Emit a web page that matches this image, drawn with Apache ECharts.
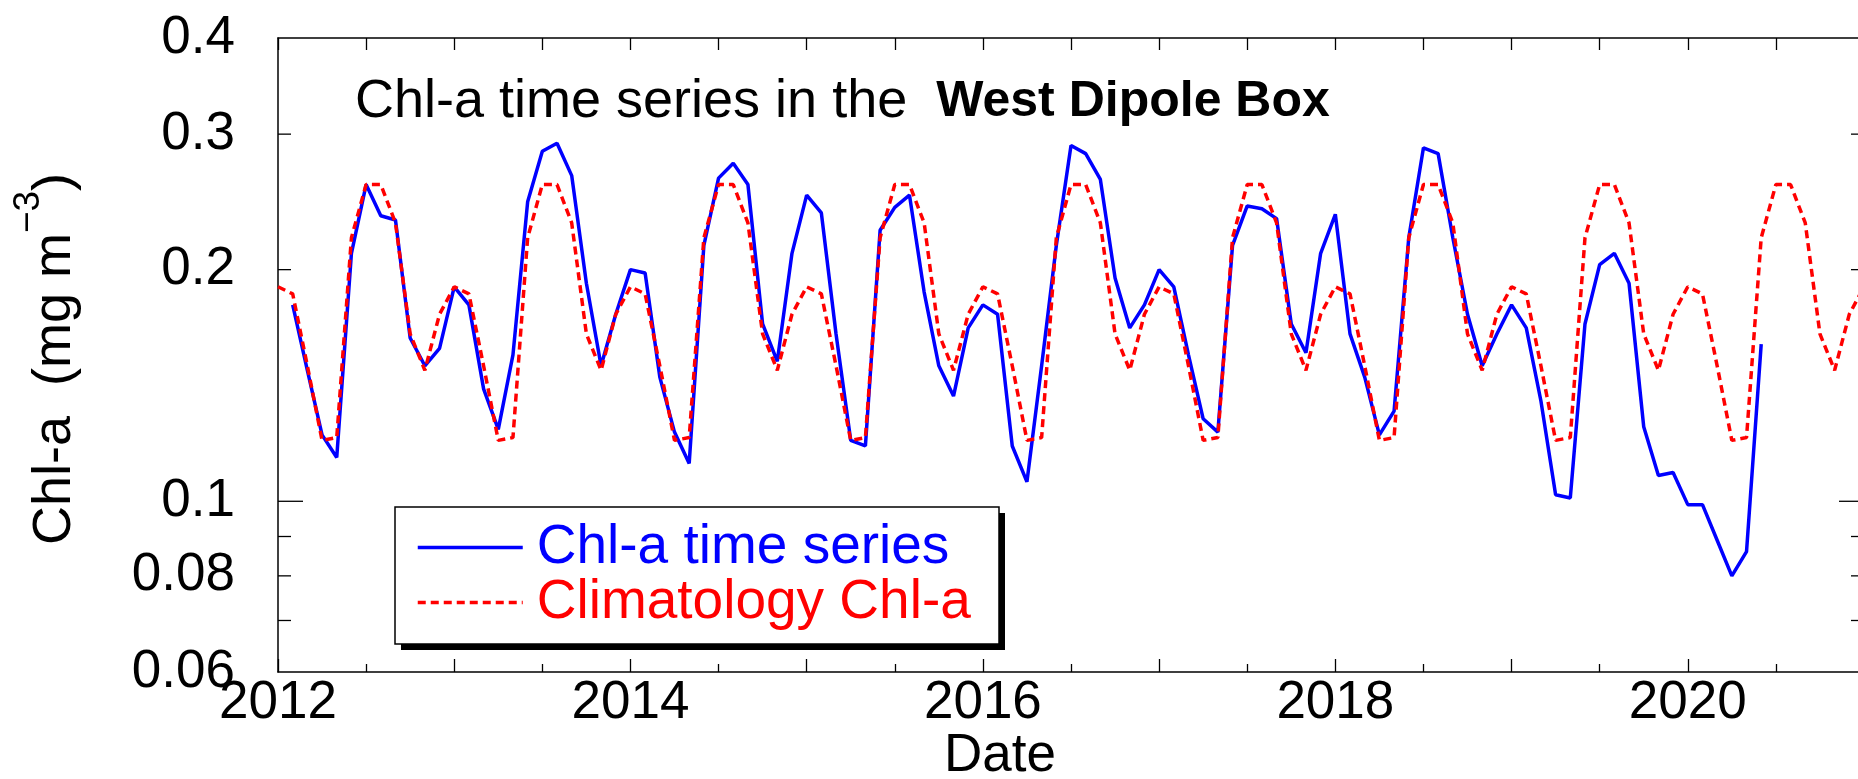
<!DOCTYPE html>
<html>
<head>
<meta charset="utf-8">
<script src="https://cdn.jsdelivr.net/npm/echarts@6/dist/echarts.min.js"></script>
<style>
html,body{margin:0;padding:0;background:#fff;}
#c{width:1858px;height:779px;}
</style>
</head>
<body>
<div id="c"></div>
<script>
// ---------------- data ----------------
const startYear = 2012;
// monthly Chl-a, Feb 2012 .. Jun 2020 (mg m^-3)
const chlValues = [
  0.18, 0.148, 0.122, 0.114, 0.21, 0.258, 0.235, 0.232, 0.163, 0.15, 0.158,
  0.19, 0.18, 0.14, 0.124, 0.155, 0.245, 0.285, 0.292, 0.265, 0.192, 0.15, 0.175,
  0.2, 0.198, 0.145, 0.123, 0.112, 0.215, 0.263, 0.275, 0.258, 0.17, 0.152, 0.21,
  0.25, 0.237, 0.165, 0.12, 0.118, 0.225, 0.241, 0.25, 0.187, 0.15, 0.137, 0.168,
  0.18, 0.175, 0.118, 0.106, 0.15, 0.215, 0.29, 0.283, 0.262, 0.195, 0.168, 0.18,
  0.2, 0.19, 0.155, 0.128, 0.123, 0.215, 0.242, 0.24, 0.233, 0.17, 0.156, 0.21,
  0.236, 0.165, 0.145, 0.122, 0.131, 0.22, 0.288, 0.283, 0.22, 0.175, 0.15, 0.165,
  0.18, 0.168, 0.135, 0.102, 0.101, 0.17, 0.203, 0.21, 0.192, 0.125, 0.108, 0.109,
  0.099, 0.099, 0.089, 0.08, 0.086, 0.16
];
// monthly climatology, Jan 2012 .. Jan 2021
const climValues = [
  0.19, 0.186, 0.15, 0.12, 0.121, 0.22, 0.258, 0.258, 0.23, 0.165, 0.148, 0.175,
  0.19, 0.186, 0.15, 0.12, 0.121, 0.22, 0.258, 0.258, 0.23, 0.165, 0.148, 0.175,
  0.19, 0.186, 0.15, 0.12, 0.121, 0.22, 0.258, 0.258, 0.23, 0.165, 0.148, 0.175,
  0.19, 0.186, 0.15, 0.12, 0.121, 0.22, 0.258, 0.258, 0.23, 0.165, 0.148, 0.175,
  0.19, 0.186, 0.15, 0.12, 0.121, 0.22, 0.258, 0.258, 0.23, 0.165, 0.148, 0.175,
  0.19, 0.186, 0.15, 0.12, 0.121, 0.22, 0.258, 0.258, 0.23, 0.165, 0.148, 0.175,
  0.19, 0.186, 0.15, 0.12, 0.121, 0.22, 0.258, 0.258, 0.23, 0.165, 0.148, 0.175,
  0.19, 0.186, 0.15, 0.12, 0.121, 0.22, 0.258, 0.258, 0.23, 0.165, 0.148, 0.175,
  0.19, 0.186, 0.15, 0.12, 0.121, 0.22, 0.258, 0.258, 0.23, 0.165, 0.148, 0.175,
  0.19
];
const chlFirstMonth = 1;   // Feb 2012
const climFirstMonth = 0;  // Jan 2012
const xLabelYears = [2012, 2014, 2016, 2018, 2020];
const yTickLabels = [0.4, 0.3, 0.2, 0.1, 0.08, 0.06];
const yMinorTicks = [0.3, 0.2, 0.09, 0.08, 0.07];
const yMajorTicks = [0.1];
const seriesNames = ['Chl-a time series', 'Climatology Chl-a'];

// ---------------- style ----------------
const FONT = "'Liberation Sans', Arial, Helvetica, sans-serif";
const BLUE = '#0000ff';
const RED = '#ff0000';

const chlData = chlValues.map((v, i) => [startYear + (i + chlFirstMonth) / 12, v]);
const climData = climValues.map((v, i) => [startYear + (i + climFirstMonth) / 12, v]);

const chart = echarts.init(document.getElementById('c'), null, {renderer: 'canvas'});

const axisLineStyle = {color: '#000', width: 1.5};
const tickLineStyle = {color: '#000', width: 1.3};

// legend frame (layout only)
const LEG = {left: 395, top: 507, width: 604, height: 137, shadow: 6};

const option = {
  animation: false,
  backgroundColor: '#fff',
  grid: {left: 278, top: 38, width: 1586, height: 634, containLabel: false, outerBoundsMode: 'none'},
  title: {
    text: '{n|Chl-a time series in the }{b|West Dipole Box}',
    left: 355, top: 75, padding: 0,
    textStyle: {
      fontSize: 54, fontFamily: FONT, color: '#000', fontWeight: 'normal',
      rich: {
        n: {fontSize: 54, fontFamily: FONT, color: '#000', fontWeight: 'normal'},
        b: {fontSize: 50, fontFamily: FONT, color: '#000', fontWeight: 'bold', padding: [0, 0, 0, 14]}
      }
    }
  },
  legend: {
    left: LEG.left, top: LEG.top, orient: 'vertical', z: 10,
    backgroundColor: 'transparent', borderWidth: 0,
    padding: [13, 30, 17, 21],
    itemWidth: 105, itemHeight: 14, itemGap: 0,
    itemStyle: {opacity: 0},
    lineStyle: {width: 3.5},
    textStyle: {fontSize: 55, fontFamily: FONT, lineHeight: 53, padding: [0, 0, 0, 9]},
    data: [
      {name: seriesNames[0], textStyle: {color: BLUE}},
      {name: seriesNames[1], textStyle: {color: RED}}
    ]
  },
  xAxis: [
    {
      type: 'value', min: 2012, max: 2021, interval: 1, position: 'bottom',
      axisLine: {show: true, onZero: false, lineStyle: axisLineStyle},
      axisTick: {show: true, inside: true, length: 13, lineStyle: tickLineStyle},
      minorTick: {show: true, splitNumber: 2, length: 8, lineStyle: tickLineStyle},
      splitLine: {show: false}, minorSplitLine: {show: false},
      axisLabel: {
        margin: 5, fontSize: 53, fontFamily: FONT, color: '#000',
        showMinLabel: true, showMaxLabel: true,
        formatter: v => (xLabelYears.indexOf(v) >= 0 ? String(v) : '')
      }
    },
    {
      type: 'value', min: 2012, max: 2021, interval: 0.5, position: 'top',
      axisLine: {show: true, onZero: false, lineStyle: axisLineStyle},
      axisTick: {show: true, inside: true, length: 12, lineStyle: tickLineStyle},
      axisLabel: {show: false}, splitLine: {show: false}
    }
  ],
  yAxis: {
    type: 'log', logBase: 10, min: 0.06, max: 0.4,
    axisLine: {show: true, onZero: false, lineStyle: axisLineStyle},
    axisTick: {show: false}, axisLabel: {show: false},
    splitLine: {show: false}, minorTick: {show: false}
  },
  series: [
    {
      name: seriesNames[0], type: 'line', xAxisIndex: 0, yAxisIndex: 0,
      data: chlData, symbol: 'none', showSymbol: false,
      lineStyle: {color: BLUE, width: 3.5}, itemStyle: {color: BLUE}, z: 2
    },
    {
      name: seriesNames[1], type: 'line', xAxisIndex: 0, yAxisIndex: 0,
      data: climData, symbol: 'none', showSymbol: false,
      lineStyle: {color: RED, width: 3.5, type: [8, 5]}, itemStyle: {color: RED}, z: 3
    }
  ]
};
chart.setOption(option);

// y-axis ticks and labels placed through the log axis scale
const x0 = chart.convertToPixel({xAxisIndex: 0}, 2012);
const x1 = chart.convertToPixel({xAxisIndex: 0}, 2021);
const yPix = v => chart.convertToPixel({yAxisIndex: 0}, v);
const g = [];
yTickLabels.forEach(v => {
  g.push({
    type: 'text', silent: true, x: x0 - 43, y: yPix(v),
    style: {text: String(v), fontSize: 53, fontFamily: FONT, fill: '#000',
            align: 'right', verticalAlign: 'middle', textAlign: 'right', textVerticalAlign: 'middle'}
  });
});
function tick(v, len) {
  const y = yPix(v);
  g.push({type: 'line', silent: true, shape: {x1: x0, y1: y, x2: x0 + len, y2: y}, style: {stroke: '#000', lineWidth: 1.3}});
  g.push({type: 'line', silent: true, shape: {x1: x1, y1: y, x2: x1 - len, y2: y}, style: {stroke: '#000', lineWidth: 1.3}});
}
yMinorTicks.forEach(v => tick(v, 13));
yMajorTicks.forEach(v => tick(v, 25));

// legend frame with hard drop shadow
g.push({
  type: 'rect', silent: true, z: 8,
  shape: {x: LEG.left + LEG.shadow, y: LEG.top + LEG.shadow, width: LEG.width, height: LEG.height},
  style: {fill: '#000'}
});
g.push({
  type: 'rect', silent: true, z: 9,
  shape: {x: LEG.left, y: LEG.top, width: LEG.width, height: LEG.height},
  style: {fill: '#fff', stroke: '#000', lineWidth: 1.5}
});

// axis titles
g.push({
  type: 'text', silent: true, x: 55, y: 359, rotation: Math.PI / 2,
  style: {
    text: '{a|Chl-a  (mg m}{s|\u22123}{a|)}',
    align: 'center', verticalAlign: 'middle', textAlign: 'center', textVerticalAlign: 'middle',
    fontSize: 54, fontFamily: FONT, fill: '#000',
    rich: {
      a: {fontSize: 54, fontFamily: FONT, fill: '#000', lineHeight: 90},
      s: {fontSize: 37, fontFamily: FONT, fill: '#000', verticalAlign: 'top'}
    }
  }
});
g.push({
  type: 'text', silent: true, x: 1000, y: 756,
  style: {text: 'Date', fontSize: 53, fontFamily: FONT, fill: '#000',
          align: 'center', verticalAlign: 'middle', textAlign: 'center', textVerticalAlign: 'middle'}
});
chart.setOption({graphic: {elements: g}});
</script>
</body>
</html>
